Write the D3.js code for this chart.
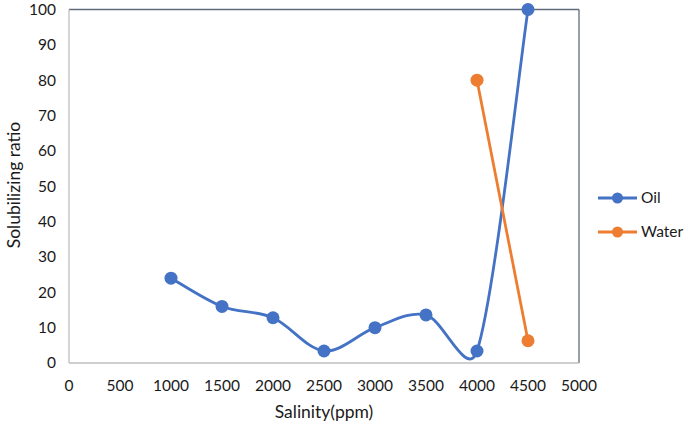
<!DOCTYPE html>
<html><head><meta charset="utf-8">
<script src="https://cdn.jsdelivr.net/npm/d3@7"></script>
<style>body{margin:0;background:#fff}text{font-family:Lato,"Open Sans",sans-serif;fill:#1a1a1a}</style>
</head><body><svg id="c" width="685" height="426"></svg>
<script>
const oilX = [1000,1500,2000,2500,3000,3500,4000,4500];
const oilY = [24,16,12.8,3.4,10,13.6,3.4,100];
const waterX = [4000,4500];
const waterY = [80,6.3];
const xTicks = [0,500,1000,1500,2000,2500,3000,3500,4000,4500,5000];
const yTicks = [0,10,20,30,40,50,60,70,80,90,100];
const seriesNames = ["Oil","Water"];
const colors = ["#4472C4","#ED7D31"];

const svg = d3.select("#c");
const L=69,R=579,T=9.5,B=363;
const x = d3.scaleLinear().domain([0,5000]).range([L,R]);
const y = d3.scaleLinear().domain([0,100]).range([B,T]);

svg.append("line").attr("x1",L).attr("x2",R).attr("y1",T).attr("y2",T).attr("stroke","#5f6b7d").attr("stroke-width",1.3);
svg.append("line").attr("x1",R).attr("x2",R).attr("y1",T).attr("y2",B).attr("stroke","#5f6b7d").attr("stroke-width",1.3);
svg.append("line").attr("x1",L).attr("x2",L).attr("y1",T).attr("y2",B).attr("stroke","#bfbfbf").attr("stroke-width",1.3);
svg.append("line").attr("x1",L).attr("x2",R).attr("y1",B).attr("y2",B).attr("stroke","#bfbfbf").attr("stroke-width",1.3);

svg.append("g").selectAll("text").data(yTicks).join("text")
  .attr("x",56).attr("y",d=>y(d)).attr("dy","0.35em").attr("text-anchor","end")
  .attr("font-size",15.5).text(d=>d);
svg.append("g").selectAll("text").data(xTicks).join("text")
  .attr("x",d=>x(d)).attr("y",386).attr("dy","0.35em").attr("text-anchor","middle")
  .attr("font-size",15.5).text(d=>d);

svg.append("text").attr("x",324).attr("y",412).attr("dy","0.35em").attr("text-anchor","middle").attr("font-size",17.5).text("Salinity(ppm)");
svg.append("text").attr("transform","translate(14,185) rotate(-90)").attr("dy","0.35em").attr("text-anchor","middle").attr("font-size",17.5).text("Solubilizing ratio");

// Excel-style smoothed line (Bezier with tension 1/6, capped at half segment length)
function smoothPath(pts){
  const p = d3.path();
  if (!pts.length) return "";
  p.moveTo(pts[0][0], pts[0][1]);
  const n = pts.length;
  const dist = (a,b)=>Math.hypot(a[0]-b[0], a[1]-b[1]);
  for (let i=0;i<n-1;i++){
    const p0 = pts[Math.max(i-1,0)], p1 = pts[i], p2 = pts[i+1], p3 = pts[Math.min(i+2,n-1)];
    const d12 = dist(p1,p2), d02 = dist(p0,p2), d13 = dist(p1,p3);
    const f1 = d02>0 ? Math.min(1/6, d12/(2*d02)) : 0;
    const f2 = d13>0 ? Math.min(1/6, d12/(2*d13)) : 0;
    const c1 = [p1[0]+(p2[0]-p0[0])*f1, p1[1]+(p2[1]-p0[1])*f1];
    const c2 = [p2[0]-(p3[0]-p1[0])*f2, p2[1]-(p3[1]-p1[1])*f2];
    p.bezierCurveTo(c1[0],c1[1],c2[0],c2[1],p2[0],p2[1]);
  }
  return p.toString();
}

const series = [oilX.map((v,i)=>[v,oilY[i]]), waterX.map((v,i)=>[v,waterY[i]])];
series.forEach((s,i)=>{
  const px = s.map(d=>[x(d[0]), y(d[1])]);
  svg.append("path").attr("d",smoothPath(px)).attr("fill","none").attr("stroke",colors[i]).attr("stroke-width",2.8);
  svg.append("g").selectAll("circle").data(s).join("circle")
    .attr("cx",d=>x(d[0])).attr("cy",d=>y(d[1])).attr("r",6.5).attr("fill",colors[i]);
});

seriesNames.forEach((n,i)=>{
  const ly = 198 + i*34;
  svg.append("line").attr("x1",598).attr("x2",637).attr("y1",ly).attr("y2",ly).attr("stroke",colors[i]).attr("stroke-width",2.8);
  svg.append("circle").attr("cx",617.5).attr("cy",ly).attr("r",5.5).attr("fill",colors[i]);
  svg.append("text").attr("x",641).attr("y",ly).attr("dy","0.35em").attr("font-size",15.5).text(n);
});
</script></body></html>
